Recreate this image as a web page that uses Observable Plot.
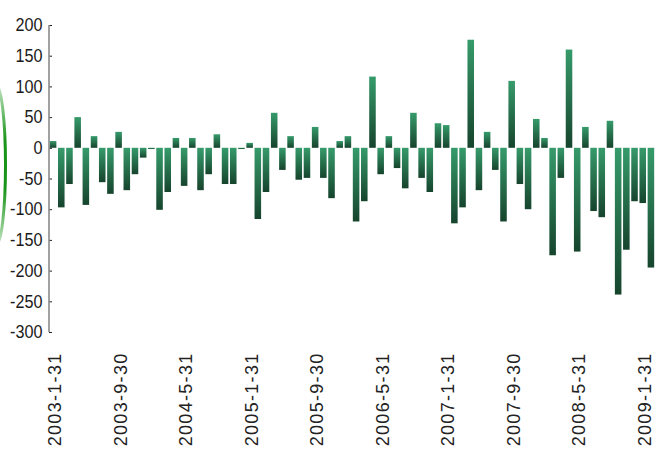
<!DOCTYPE html>
<html><head><meta charset="utf-8">
<script src="https://cdn.jsdelivr.net/npm/d3@7"></script>
<script src="https://cdn.jsdelivr.net/npm/@observablehq/plot@0.6"></script>
<style>
html,body{margin:0;padding:0;background:#fff;}
#chart svg{display:block;}
</style></head><body><div id="chart"></div>
<script>
const dates = [
 "2003-1-31","2003-2-28","2003-3-31","2003-4-30","2003-5-31","2003-6-30","2003-7-31","2003-8-31","2003-9-30","2003-10-31","2003-11-30","2003-12-31",
 "2004-1-31","2004-2-29","2004-3-31","2004-4-30","2004-5-31","2004-6-30","2004-7-31","2004-8-31","2004-9-30","2004-10-31","2004-11-30","2004-12-31",
 "2005-1-31","2005-2-28","2005-3-31","2005-4-30","2005-5-31","2005-6-30","2005-7-31","2005-8-31","2005-9-30","2005-10-31","2005-11-30","2005-12-31",
 "2006-1-31","2006-2-28","2006-3-31","2006-4-30","2006-5-31","2006-6-30","2006-7-31","2006-8-31","2006-9-30","2006-10-31","2006-11-30","2006-12-31",
 "2007-1-31","2007-2-28","2007-3-31","2007-4-30","2007-5-31","2007-6-30","2007-7-31","2007-8-31","2007-9-30","2007-10-31","2007-11-30","2007-12-31",
 "2008-1-31","2008-2-29","2008-3-31","2008-4-30","2008-5-31","2008-6-30","2008-7-31","2008-8-31","2008-9-30","2008-10-31","2008-11-30","2008-12-31",
 "2009-1-31","2009-2-28"
];
const values = [
 11,-97,-59,50,-93,19,-56,-75,26,-69,-43,-16,
 -2,-101,-72,16,-62,16,-69,-43,22,-59,-59,-2,
 8,-116,-72,57,-36,19,-52,-49,34,-49,-82,11,
 19,-120,-87,116,-43,19,-33,-66,57,-49,-72,40,
 37,-123,-97,176,-69,26,-36,-120,109,-59,-100,47,
 16,-175,-49,160,-169,34,-103,-113,44,-239,-166,-87,
 -90,-195
];
const xTickLabels = ["2003-1-31","2003-9-30","2004-5-31","2005-1-31","2005-9-30","2006-5-31","2007-1-31","2007-9-30","2008-5-31","2009-1-31"];
const yTicks = [-300,-250,-200,-150,-100,-50,0,50,100,150,200];

const data = dates.map((d, i) => ({date: d, value: values[i]}));

const plot = Plot.plot({
  width: 666, height: 454,
  marginLeft: 49, marginRight: 11, marginTop: 25, marginBottom: 122,
  style: {background: "#fff", fontFamily: "'Liberation Sans', Arial, sans-serif", color: "#1a1a1a"},
  x: {type: "band", domain: dates, paddingInner: 0.2, paddingOuter: 0.1, round: false, label: null},
  y: {domain: [-300, 200], label: null},
  marks: [
    Plot.barY(data, {x: "date", y: "value", fill: "url(#barGrad)"}),
    Plot.axisY({ticks: yTicks, tickSize: -3, tickFormat: () => "", stroke: "#222", label: null}),
    Plot.axisY({ticks: yTicks, tickSize: 0, tickPadding: 7, tickFormat: d => String(d), fontSize: 18, fill: "#1a1a1a", label: null}),
    Plot.axisX({ticks: xTickLabels, tickRotate: -90, tickSize: 0, tickPadding: 20, fontSize: 18, dx: 2, fill: "#222", label: null})
  ]
});
document.getElementById("chart").appendChild(plot);

const svg = d3.select(plot);
const defs = svg.insert("defs", ":first-child");
const g = defs.append("linearGradient").attr("id", "barGrad").attr("x1", 0).attr("y1", 0).attr("x2", 0).attr("y2", 1);
g.append("stop").attr("offset", "0%").attr("stop-color", "#369b6b");
g.append("stop").attr("offset", "100%").attr("stop-color", "#16442d");

// compress y tick labels horizontally like the reference
svg.selectAll('g[aria-label="y-axis tick label"] text').each(function() {
  const w = this.getComputedTextLength();
  if (w > 0) {
    this.setAttribute("textLength", (w * 0.9).toFixed(1));
    this.setAttribute("lengthAdjust", "spacingAndGlyphs");
  }
});
// letter-spaced x tick labels
svg.selectAll('g[aria-label="x-axis tick label"] text').style("letter-spacing", "1.3px");

// vertical axis line from the scales
const xs = plot.scale("x"), ys = plot.scale("y");
svg.append("line")
  .attr("x1", xs.range[0]).attr("x2", xs.range[0])
  .attr("y1", ys.apply(200)).attr("y2", ys.apply(-300))
  .attr("stroke", "#8a8a8a").attr("stroke-width", 1.6);

// decorative green arc at the left edge
const eg = defs.append("linearGradient").attr("id", "arcGrad").attr("x1", 0).attr("y1", 0).attr("x2", 0).attr("y2", 1);
eg.append("stop").attr("offset", "0%").attr("stop-color", "#189418").attr("stop-opacity", 0.25);
eg.append("stop").attr("offset", "35%").attr("stop-color", "#189418").attr("stop-opacity", 1);
eg.append("stop").attr("offset", "65%").attr("stop-color", "#189418").attr("stop-opacity", 1);
eg.append("stop").attr("offset", "100%").attr("stop-color", "#189418").attr("stop-opacity", 0.25);
svg.append("ellipse")
  .attr("cx", -4).attr("cy", 165).attr("rx", 9.5).attr("ry", 80)
  .attr("fill", "none").attr("stroke", "url(#arcGrad)").attr("stroke-width", 3);
</script>
</body></html>
